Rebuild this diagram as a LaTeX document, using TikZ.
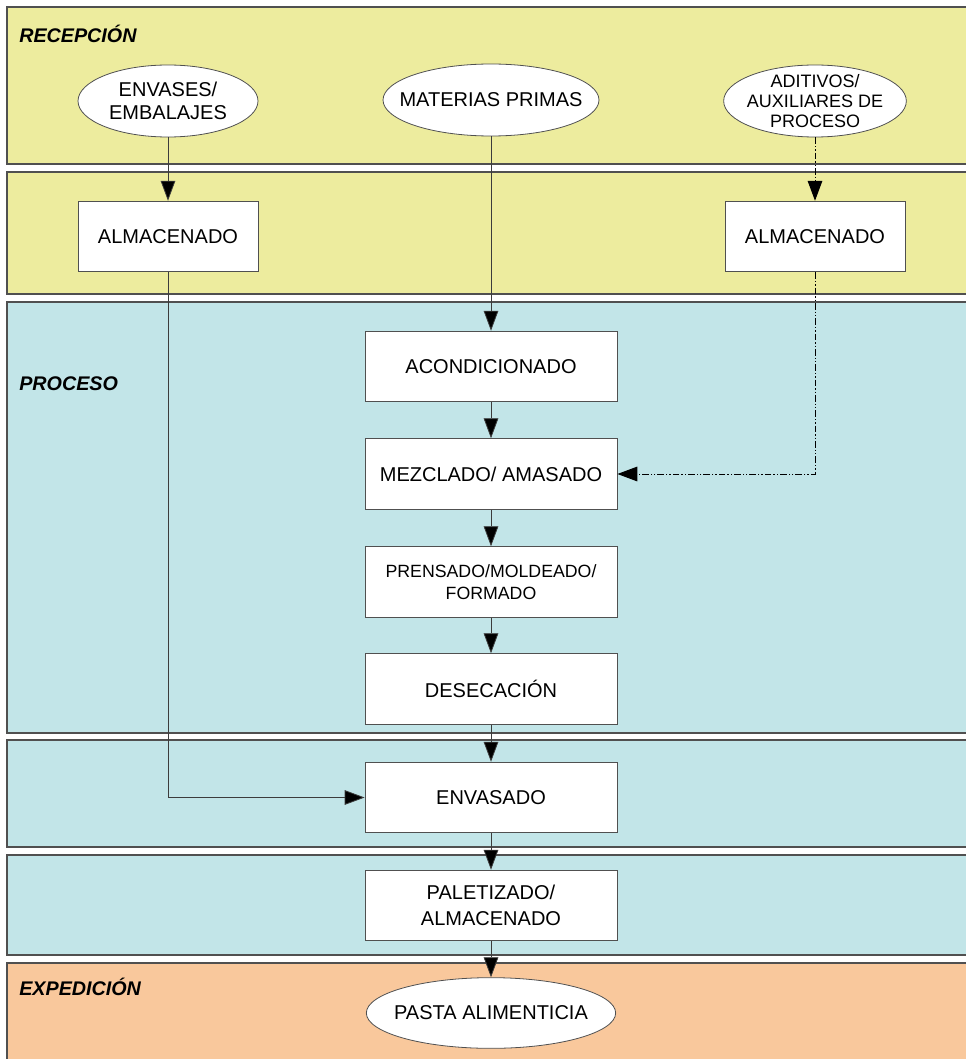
\documentclass[tikz,border=0pt]{standalone}
\usepackage{fontspec}
\setmainfont{Liberation Sans}
\usetikzlibrary{arrows.meta}
\usetikzlibrary{shapes.geometric}

\definecolor{amarillo}{RGB}{237,236,158}
\definecolor{celeste}{RGB}{194,229,232}
\definecolor{naranja}{RGB}{249,200,156}
\definecolor{borde}{RGB}{80,80,80}
\definecolor{linea}{RGB}{60,60,60}

\tikzset{
  banda/.style={draw=borde, line width=0.8pt},
  caja/.style={draw=borde, fill=white, line width=0.6pt, rectangle, inner sep=0pt,
    minimum width=189pt, minimum height=53pt, align=center,
    font=\fontsize{15}{18}\selectfont},
  cajachica/.style={caja, minimum width=135pt},
  fuente/.style={draw=borde, fill=white, line width=0.6pt, ellipse, inner sep=0pt,
    minimum width=135pt, minimum height=54pt},
  texto/.style={inner sep=0pt, align=center, font=\fontsize{15}{17}\selectfont},
  etiqueta/.style={inner sep=0pt, anchor=base west,
    font=\fontsize{14.8}{16}\selectfont\bfseries\itshape},
  flecha/.style={draw=linea, line width=0.6pt, -{Triangle[length=15pt,width=11pt,fill=black]}},
  flechapunto/.style={flecha, draw=black, line width=0.75pt,
    dash pattern=on 5pt off 1.5pt on 1pt off 1.5pt on 1pt off 1.5pt},
}

\begin{document}
\begin{tikzpicture}[x=0.75pt,y=0.75pt,yscale=-1,xscale=1]
\useasboundingbox (0,0) rectangle (966,1059);

%Bands
\draw[banda, fill=amarillo] (7,7) rectangle (970,164);
\draw[banda, fill=amarillo] (7,172) rectangle (970,294);
\draw[banda, fill=celeste] (7,302) rectangle (970,733);
\draw[banda, fill=celeste] (7,740) rectangle (970,847);
\draw[banda, fill=celeste] (7,855) rectangle (970,955);
\draw[banda, fill=naranja] (7,963) rectangle (970,1065);

% Text Node
\node[etiqueta] (recep) at (19,43) {RECEPCIÓN};
% Text Node
\node[etiqueta] (proc) at (19,390) {PROCESO};
% Text Node
\node[etiqueta] (exped) at (19,995) {EXPEDICIÓN};

%Shape: Ellipse
\node[fuente] (env) at (168,101) {};
\node[texto] (envt) at (env) {ENVASES/\\EMBALAJES};
\node[fuente, minimum width=162pt] (mat) at (491,100) {};
\node[texto] (matt) at (mat) {MATERIAS PRIMAS};
\node[fuente, minimum width=137pt] (adit) at (815,101) {};
\node[texto, font=\fontsize{13.5}{15}\selectfont] (aditt) at (adit) {ADITIVOS/\\AUXILIARES DE\\PROCESO};
\node[fuente, minimum width=187pt, minimum height=53pt] (pasta) at (491,1013) {};
\node[texto] (pastat) at (pasta) {PASTA ALIMENTICIA};

%Shape: Rectangle
\node[cajachica] (alm1) at (168,236.5) {ALMACENADO};
\node[cajachica] (alm2) at (815,236.5) {ALMACENADO};
\node[caja] (acond) at (491,366.5) {ACONDICIONADO};
\node[caja] (mezcl) at (491,474) {MEZCLADO/ AMASADO};
\node[caja, font=\fontsize{13.3}{17}\selectfont] (prens) at (491,582) {PRENSADO/MOLDEADO/\\FORMADO};
\node[caja] (desec) at (491,689) {DESECACIÓN};
\node[caja] (envas) at (491,797.5) {ENVASADO};
\node[caja, font=\fontsize{15}{19}\selectfont] (palet) at (491,905.5) {PALETIZADO/\\ALMACENADO};

%Straight Lines
\draw[flecha] (env) -- (alm1);
\draw[flecha] (mat) -- (acond);
\draw[flechapunto] (adit) -- (alm2);
\draw[flecha] (alm1) |- (envas);
\draw[flechapunto] (alm2) |- (mezcl);
\draw[flecha] (acond) -- (mezcl);
\draw[flecha] (mezcl) -- (prens);
\draw[flecha] (prens) -- (desec);
\draw[flecha] (desec) -- (envas);
\draw[flecha] (envas) -- (palet);
\draw[flecha] (palet) -- (pasta);

\end{tikzpicture}
\end{document}
